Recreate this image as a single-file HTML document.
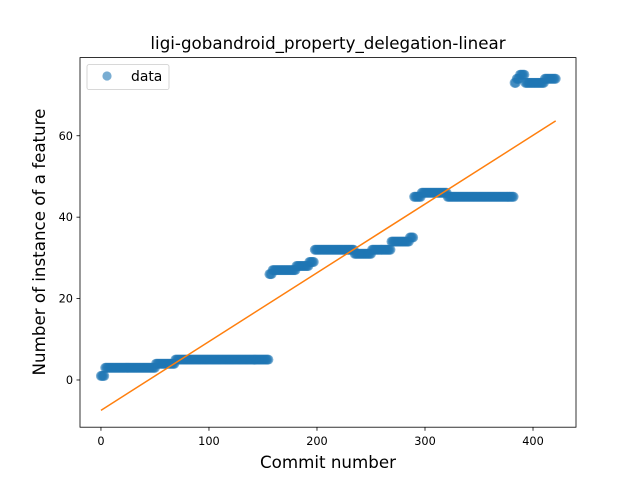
<!DOCTYPE html>
<html><head><meta charset="utf-8"><style>
body{margin:0;background:#fff}
svg text{font-family:"DejaVu Sans","Liberation Sans",sans-serif;fill:#000}
</style></head><body>
<svg id="c" width="640" height="480" viewBox="0 0 640 480" xmlns="http://www.w3.org/2000/svg">
<rect width="640" height="480" fill="#fff"/>
<text x="328" y="49" font-size="16.7" text-anchor="middle">ligi-gobandroid_property_delegation-linear</text>
<g id="plot"></g>
<rect x="80" y="57.6" width="496" height="369.6" fill="none" stroke="#000" stroke-width="0.8"/>
<g id="ticks"></g>
<text x="328" y="468" font-size="16.7" text-anchor="middle">Commit number</text>
<text transform="translate(45,242) rotate(-90)" font-size="16.7" text-anchor="middle">Number of instance of a feature</text>
<g>
<rect x="87" y="64.6" width="82" height="25" rx="2" fill="#fff" fill-opacity="0.8" stroke="#ccc" stroke-width="0.8"/>
<circle cx="107" cy="76" r="4.6" fill="#1f77b4" fill-opacity="0.6"/>
<text x="131" y="81" font-size="13.9">data</text>
</g>
</svg>
<script>
const runValues = [1,3,4,5,26,27,28,29,32,31,32,34,35,45,46,45,73,74,75,73,74];
const runCounts = [4,47,18,87,3,22,12,5,37,16,18,17,4,7,24,62,2,3,5,18,11];
const xTicks = [0,100,200,300,400];
const yTicks = [0,20,40,60];
const NS="http://www.w3.org/2000/svg";
const X0=80,X1=576,Y0=57.6,Y1=427.2;
const xMin=-19.4,xMax=439.8,yMin=-11.6,yMax=79.2;
function sx(v){return X0+(v-xMin)/(xMax-xMin)*(X1-X0);}
function sy(v){return Y1-(v-yMin)/(yMax-yMin)*(Y1-Y0);}
const xs=[],ys=[];
let idx=0;
runValues.forEach((v,i)=>{for(let k=0;k<runCounts[i];k++){xs.push(idx++);ys.push(v);}});
const plot=document.getElementById('plot');
xs.forEach((x,i)=>{
  const c=document.createElementNS(NS,'circle');
  c.setAttribute('cx',sx(x));c.setAttribute('cy',sy(ys[i]));c.setAttribute('r',5);
  c.setAttribute('fill','#1f77b4');c.setAttribute('fill-opacity','0.6');
  
  
  plot.appendChild(c);
});
const n=xs.length;let mx=0,my=0;xs.forEach((x,i)=>{mx+=x;my+=ys[i];});mx/=n;my/=n;
let sxy=0,sxx=0;xs.forEach((x,i)=>{sxy+=(x-mx)*(ys[i]-my);sxx+=(x-mx)*(x-mx);});
const b=sxy/sxx,a=my-b*mx;
const xa=xs[0],xb=xs[n-1];
const ln=document.createElementNS(NS,'line');
ln.setAttribute('x1',sx(xa));ln.setAttribute('y1',sy(a+b*xa));
ln.setAttribute('x2',sx(xb));ln.setAttribute('y2',sy(a+b*xb));
ln.setAttribute('stroke','#ff7f0e');ln.setAttribute('stroke-width','1.5');


plot.appendChild(ln);
const tg=document.getElementById('ticks');
xTicks.forEach(t=>{
  const l=document.createElementNS(NS,'line');
  l.setAttribute('x1',sx(t));l.setAttribute('x2',sx(t));l.setAttribute('y1',Y1);l.setAttribute('y2',Y1+3.5);
  l.setAttribute('stroke','#000');l.setAttribute('stroke-width','0.8');
  
  
  tg.appendChild(l);
  const tx=document.createElementNS(NS,'text');
  tx.setAttribute('x',sx(t));tx.setAttribute('y',Y1+18);tx.setAttribute('font-size','11.3');tx.setAttribute('text-anchor','middle');
  tx.textContent=t;
  
  
  tg.appendChild(tx);
});
yTicks.forEach(t=>{
  const l=document.createElementNS(NS,'line');
  l.setAttribute('x1',X0-3.5);l.setAttribute('x2',X0);l.setAttribute('y1',sy(t));l.setAttribute('y2',sy(t));
  l.setAttribute('stroke','#000');l.setAttribute('stroke-width','0.8');
  
  
  tg.appendChild(l);
  const tx=document.createElementNS(NS,'text');
  tx.setAttribute('x',X0-7);tx.setAttribute('y',sy(t)+4);tx.setAttribute('font-size','11.3');tx.setAttribute('text-anchor','end');
  tx.textContent=t;
  
  
  tg.appendChild(tx);
});
</script>
</body></html>
